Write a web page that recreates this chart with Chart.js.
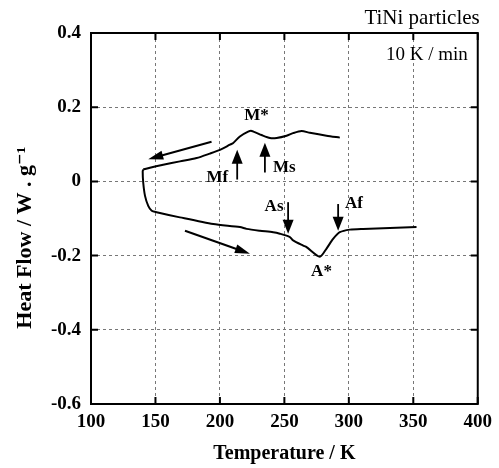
<!DOCTYPE html>
<html>
<head>
<meta charset="utf-8">
<script src="https://cdn.jsdelivr.net/npm/chart.js@4.4.0/dist/chart.umd.min.js"></script>
<style>
  html, body { margin: 0; padding: 0; background: #fff; }
  #wrap { width: 499px; height: 468px; }
</style>
</head>
<body>
<div id="wrap"><canvas id="dsc"></canvas></div>
<script>
// cooling run (295 K -> 140 K)
const coolT  = [293.0, 282.7, 269.8, 263.3, 256.6, 251.7, 244.0, 238.8, 232.3, 224.6, 221.9, 215.5, 210.1, 207.8, 200.0, 192.2, 181.9, 169.0, 156.0, 145.7, 140.5];
const coolHF = [0.118, 0.123, 0.131, 0.136, 0.130, 0.123, 0.117, 0.117, 0.125, 0.136, 0.134, 0.121, 0.103, 0.099, 0.085, 0.075, 0.063, 0.054, 0.045, 0.037, 0.032];
// heating run (140 K -> 352 K)
const heatT  = [140.5, 140.1, 140.5, 141.9, 144.4, 147.1, 150.9, 169.0, 194.8, 215.5, 220.7, 231.0, 241.3, 246.5, 254.3, 256.8, 264.6, 267.2, 277.5, 282.7, 287.8, 293.0, 300.8, 311.1, 352.5];
const heatHF = [0.032, 0.027, -0.003, -0.039, -0.066, -0.079, -0.083, -0.097, -0.115, -0.123, -0.128, -0.133, -0.137, -0.141, -0.150, -0.159, -0.173, -0.177, -0.203, -0.181, -0.155, -0.137, -0.130, -0.128, -0.123];

const xTicks = [100, 150, 200, 250, 300, 350, 400];
const yTicks = [-0.6, -0.4, -0.2, 0, 0.2, 0.4];

// transformation markers: label, temperature, arrow start / end heat flow
const markerNames = ['Mf', 'Ms', 'As', 'Af'];
const markerT     = [213.4, 234.9, 252.9, 291.7];
const markerFrom  = [0.005, 0.024, -0.056, -0.061];
const markerTo    = [0.085, 0.104, -0.141, -0.133];
const markerLabT  = [198.0, 250.0, 242.0, 304.0];
const markerLabHF = [0.010, 0.037, -0.069, -0.061];

// peak labels
const peakNames = ['M*', 'A*'];
const peakT     = [228.4, 278.8];
const peakHF    = [0.178, -0.243];

// direction arrows [x0, y0, x1, y1]
const dirArrows = [
  [193.5, 0.107, 144.4, 0.060],
  [172.9, -0.133, 223.3, -0.195]
];

const pts = (xs, ys) => xs.map((x, i) => ({ x: x, y: ys[i] }));
const serif = '"Liberation Serif", "DejaVu Serif", serif';

function arrow(ctx, x0, y0, x1, y1, head, width) {
  const a = Math.atan2(y1 - y0, x1 - x0);
  ctx.beginPath();
  ctx.moveTo(x0, y0);
  ctx.lineTo(x1 - Math.cos(a) * head * 0.8, y1 - Math.sin(a) * head * 0.8);
  ctx.stroke();
  ctx.beginPath();
  ctx.moveTo(x1, y1);
  ctx.lineTo(x1 - head * Math.cos(a) + width * Math.sin(a), y1 - head * Math.sin(a) - width * Math.cos(a));
  ctx.lineTo(x1 - head * Math.cos(a) - width * Math.sin(a), y1 - head * Math.sin(a) + width * Math.cos(a));
  ctx.closePath();
  ctx.fill();
}

const decor = {
  id: 'decor',
  beforeDatasetsDraw(chart) {
    const { ctx, chartArea: a, scales: { x, y } } = chart;
    ctx.save();
    // inward ticks on all four sides
    ctx.strokeStyle = '#000';
    ctx.lineWidth = 2;
    xTicks.forEach(t => {
      const px = x.getPixelForValue(t);
      ctx.beginPath();
      ctx.moveTo(px, a.bottom); ctx.lineTo(px, a.bottom - 7);
      ctx.moveTo(px, a.top); ctx.lineTo(px, a.top + 7);
      ctx.stroke();
    });
    yTicks.forEach(t => {
      const py = y.getPixelForValue(t);
      ctx.beginPath();
      ctx.moveTo(a.left, py); ctx.lineTo(a.left + 7, py);
      ctx.moveTo(a.right, py); ctx.lineTo(a.right - 7, py);
      ctx.stroke();
    });
    // frame
    ctx.lineWidth = 2;
    ctx.strokeRect(a.left, a.top, a.right - a.left, a.bottom - a.top);
    ctx.restore();
  },
  afterDatasetsDraw(chart) {
    const { ctx, chartArea: a, scales: { x, y } } = chart;
    ctx.save();
    ctx.fillStyle = '#000';
    ctx.strokeStyle = '#000';
    ctx.textBaseline = 'middle';

    // marker arrows + labels
    ctx.lineWidth = 1.8;
    markerNames.forEach((n, i) => {
      const px = x.getPixelForValue(markerT[i]);
      arrow(ctx, px, y.getPixelForValue(markerFrom[i]), px, y.getPixelForValue(markerTo[i]), 14, 5.5);
      ctx.font = 'bold 17px ' + serif;
      ctx.textAlign = 'center';
      ctx.fillText(n, x.getPixelForValue(markerLabT[i]), y.getPixelForValue(markerLabHF[i]));
    });

    // peak labels
    ctx.font = 'bold 17px ' + serif;
    ctx.textAlign = 'center';
    peakNames.forEach((n, i) => {
      ctx.fillText(n, x.getPixelForValue(peakT[i]), y.getPixelForValue(peakHF[i]));
    });

    // cooling / heating direction arrows
    ctx.lineWidth = 2;
    dirArrows.forEach(d => {
      arrow(ctx, x.getPixelForValue(d[0]), y.getPixelForValue(d[1]),
                 x.getPixelForValue(d[2]), y.getPixelForValue(d[3]), 15, 4.5);
    });

    // text notes
    ctx.font = '21px ' + serif;
    ctx.textAlign = 'right';
    ctx.fillText('TiNi particles', a.right + 2, a.top - 15);
    ctx.font = '19px ' + serif;
    ctx.fillText('10 K / min', a.right - 10, a.top + 22);
    ctx.restore();
  }
};

const lineStyle = {
  borderColor: '#000',
  borderWidth: 2,
  pointRadius: 0,
  showLine: true,
  fill: false,
  tension: 0.25
};

const gridStyle = { color: '#777', lineWidth: 1, drawTicks: false };
const borderStyle = { display: false, dash: [3, 3] };

new Chart(document.getElementById('dsc'), {
  type: 'scatter',
  data: {
    datasets: [
      Object.assign({ label: 'cooling', data: pts(coolT, coolHF) }, lineStyle),
      Object.assign({ label: 'heating', data: pts(heatT, heatHF) }, lineStyle)
    ]
  },
  options: {
    responsive: true,
    maintainAspectRatio: false,
    animation: false,
    layout: { padding: { top: 33, right: 21, left: 0, bottom: 0 } },
    plugins: { legend: { display: false }, tooltip: { enabled: false } },
    scales: {
      x: {
        type: 'linear',
        min: 100, max: 400,
        afterBuildTicks: s => { s.ticks = xTicks.map(v => ({ value: v })); },
        afterFit: s => { s.height = 64; },
        border: borderStyle,
        grid: gridStyle,
        ticks: { color: '#000', padding: 7, font: { family: serif, size: 19, weight: 'bold' }, maxRotation: 0 },
        title: { display: true, text: 'Temperature / K', color: '#000', padding: { top: 8, bottom: 2 },
                 font: { family: serif, size: 20, weight: 'bold' } }
      },
      y: {
        type: 'linear',
        min: -0.6, max: 0.4,
        afterBuildTicks: s => { s.ticks = yTicks.map(v => ({ value: v })); },
        afterFit: s => { s.width = 91; },
        border: borderStyle,
        grid: gridStyle,
        ticks: { color: '#000', padding: 10, font: { family: serif, size: 19, weight: 'bold' },
                 callback: v => (Math.abs(v) < 1e-9 ? '0' : String(Math.round(v * 10) / 10)) },
        title: { display: true, text: 'Heat Flow / W . g\u207B\u00B9       ', color: '#000', padding: { top: 12, bottom: 0 },
                 font: { family: serif, size: 22, weight: 'bold' } }
      }
    }
  },
  plugins: [decor]
});
</script>
</body>
</html>
